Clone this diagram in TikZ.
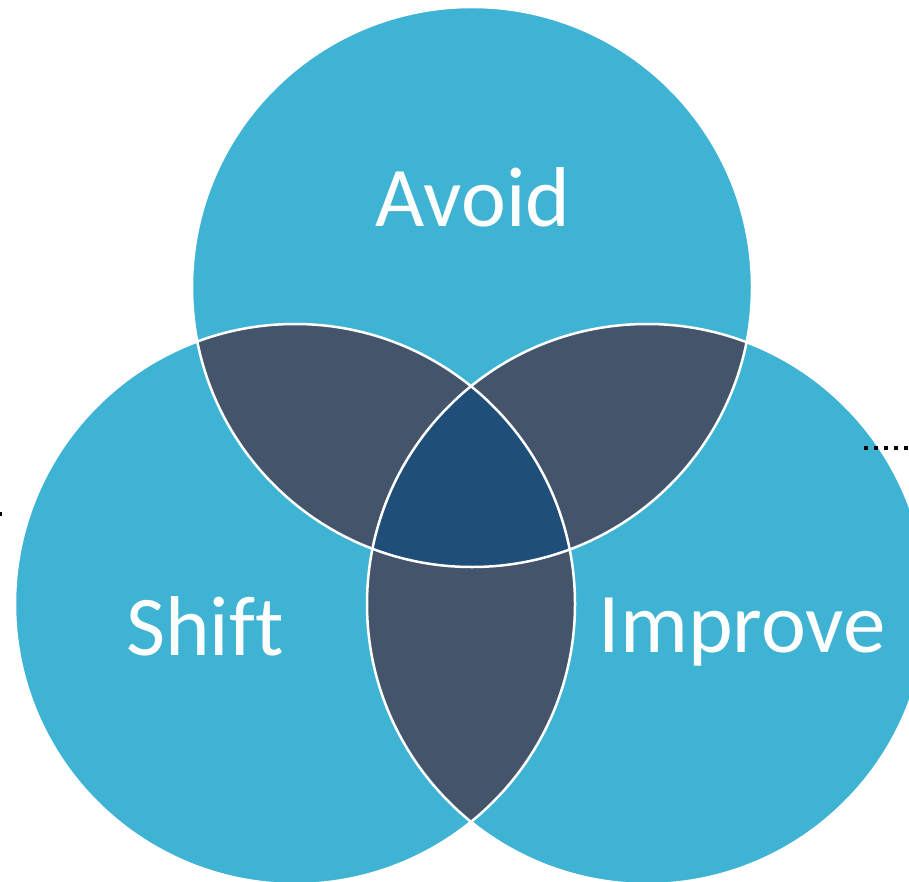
\documentclass[tikz,border=0pt]{standalone}
\usepackage{fontspec}
\setmainfont{Carlito}[Ligatures=NoCommon]
\definecolor{venn}{HTML}{3EB3D3}
\definecolor{pair}{HTML}{44546A}
\definecolor{core}{HTML}{1F4E79}
\begin{document}
\begin{tikzpicture}
  [
    x=1pt,
    y=-1pt,
    ring/.style={
      fill=venn
    },
    edge/.style={
      draw=white,
      line width=2.5pt
    },
    word/.style={
      text=white,
      anchor=base,
      inner sep=0pt,
      font=\fontsize{85}{100}\selectfont
    },
    lead/.style={
      draw=black,
      line width=4pt,
      dash pattern=on 4pt off 6pt
    }
  ]

  \useasboundingbox (0,0) rectangle (909,882);

  \coordinate (avoidc) at (472,287);
  \coordinate (shiftc) at (295,604);
  \coordinate (improvec) at (647,604);

  \fill [ring] (avoidc) circle [radius=280pt];
  \fill [ring] (shiftc) circle [radius=280pt];
  \fill [ring] (improvec) circle [radius=280pt];

  \begin{scope}
    \clip (avoidc) circle [radius=280pt];
    \fill [pair] (shiftc) circle [radius=280pt];
    \fill [pair] (improvec) circle [radius=280pt];
  \end{scope}
  \begin{scope}
    \clip (shiftc) circle [radius=280pt];
    \fill [pair] (improvec) circle [radius=280pt];
  \end{scope}
  \begin{scope}
    \clip (avoidc) circle [radius=280pt];
    \clip (shiftc) circle [radius=280pt];
    \fill [core] (improvec) circle [radius=280pt];
  \end{scope}

  \foreach \c in {avoidc,shiftc,improvec} {
      \draw [edge] (\c) circle [radius=280pt];
  }

  \node [word] (avoid) at (473,227) {Avoid};
  \node [word] (shift) at (205,655) {Shift};
  \node [word] (improve) at (742,652) {Improve};

  \coordinate (rightin) at (864,448);
  \coordinate (rightout) at (909,448);
  \draw [lead] (rightin) -- (rightout);

  \coordinate (leftin) at (0,514);
  \coordinate (leftout) at (2,514);
  \draw [draw=black, line width=4pt] (leftin) -- (leftout);

\end{tikzpicture}
\end{document}
